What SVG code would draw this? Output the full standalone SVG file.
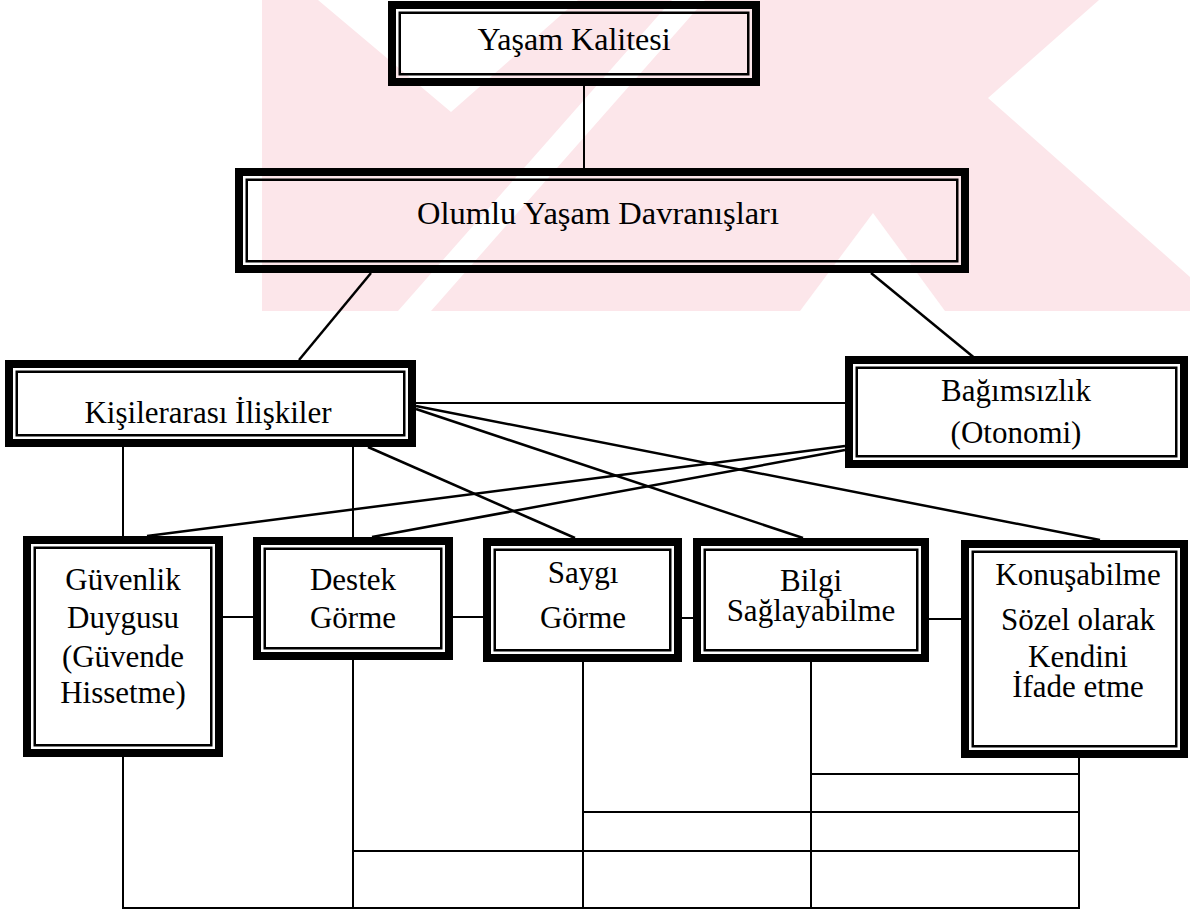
<svg xmlns="http://www.w3.org/2000/svg" width="1190" height="912" viewBox="0 0 1190 912">
<style>
.wm{fill:#fce6ea;stroke:none}
.wc{fill:#ffffff;stroke:none}
.ob{fill:none;stroke:#000;stroke-width:8}
.ib{fill:none;stroke:#000;stroke-width:2.5}
.t{font-family:"Liberation Serif","Times New Roman",serif;font-size:31px;fill:#000;text-anchor:middle}
.c{fill:none;stroke:#000;stroke-width:2}
.d{fill:none;stroke:#000;stroke-width:2.5}
</style>
<rect width="1190" height="912" fill="#fff"/>
<g id="watermark">
<rect class="wm" x="262" y="0" width="928" height="311"/>
<polygon class="wc" points="318,0 578,0 451,112"/>
<polygon class="wc" points="672,0 705,0 431,311 398,311"/>
<polygon class="wc" points="1099,0 1190,0 1190,277 988,98"/>
<polygon class="wc" points="873,213 800,311 945,311"/>
</g>
<g id="connectors">
<path class="c" d="M584 86V168"/>
<path class="d" d="M371 273L299 360"/>
<path class="d" d="M871 273L977 360"/>
<path class="c" d="M416 403H845"/>
<path class="d" d="M416 406L1100 540"/>
<path class="d" d="M416 409L803 538"/>
<path class="d" d="M368 447L575 538"/>
<path class="d" d="M845 446L147 536"/>
<path class="d" d="M845 450L372 537"/>
<path class="c" d="M123 447V536M353 447V537"/>
<path class="c" d="M223 617H253M453 617H483M682 618H693M929 619H961"/>
<path class="c" d="M123 757V908H1079V758"/>
<path class="c" d="M353 660V908M583 662V908M811 662V908"/>
<path class="c" d="M811 774H1079M583 812H1079M353 851H1079"/>
</g>
<g id="yasam">
<rect class="ob" x="392" y="5" width="364" height="77"/>
<rect class="ib" x="399.75" y="12.75" width="348.5" height="61.5"/>
<text class="t" x="574" y="50" style="font-size:32px">Yaşam Kalitesi</text>
</g>
<g id="olumlu">
<rect class="ob" x="239" y="172" width="726" height="97"/>
<rect class="ib" x="246.75" y="179.75" width="710.5" height="81.5"/>
<text class="t" x="598" y="224" style="font-size:32.5px">Olumlu Yaşam Davranışları</text>
</g>
<g id="kisilerarasi">
<rect class="ob" x="9" y="364" width="403" height="79"/>
<rect class="ib" x="16.75" y="371.75" width="387.5" height="63.5"/>
<text class="t" x="208" y="423">Kişilerarası İlişkiler</text>
</g>
<g id="bagimsizlik">
<rect class="ob" x="849" y="360" width="335" height="104"/>
<rect class="ib" x="856.75" y="367.75" width="319.5" height="88.5"/>
<text class="t" x="1016" y="401">Bağımsızlık</text>
<text class="t" x="1016" y="443">(Otonomi)</text>
</g>
<g id="guvenlik">
<rect class="ob" x="27" y="540" width="192" height="213"/>
<rect class="ib" x="34.75" y="547.75" width="176.5" height="197.5"/>
<text class="t" x="123" y="590">Güvenlik</text>
<text class="t" x="123" y="628">Duygusu</text>
<text class="t" x="123" y="667">(Güvende</text>
<text class="t" x="123" y="703">Hissetme)</text>
</g>
<g id="destek">
<rect class="ob" x="257" y="541" width="192" height="115"/>
<rect class="ib" x="264.75" y="548.75" width="176.5" height="99.5"/>
<text class="t" x="353" y="590">Destek</text>
<text class="t" x="353" y="628">Görme</text>
</g>
<g id="saygi">
<rect class="ob" x="487" y="542" width="191" height="116"/>
<rect class="ib" x="494.75" y="549.75" width="175.5" height="100.5"/>
<text class="t" x="583" y="583">Saygı</text>
<text class="t" x="583" y="628">Görme</text>
</g>
<g id="bilgi">
<rect class="ob" x="697" y="542" width="228" height="116"/>
<rect class="ib" x="704.75" y="549.75" width="212.5" height="100.5"/>
<text class="t" x="811" y="591">Bilgi</text>
<text class="t" x="811" y="621">Sağlayabilme</text>
</g>
<g id="konusabilme">
<rect class="ob" x="965" y="544" width="219" height="210"/>
<rect class="ib" x="972.75" y="551.75" width="203.5" height="194.5"/>
<text class="t" x="1078" y="585">Konuşabilme</text>
<text class="t" x="1078" y="630">Sözel olarak</text>
<text class="t" x="1078" y="667">Kendini</text>
<text class="t" x="1078" y="697">İfade etme</text>
</g>
</svg>
